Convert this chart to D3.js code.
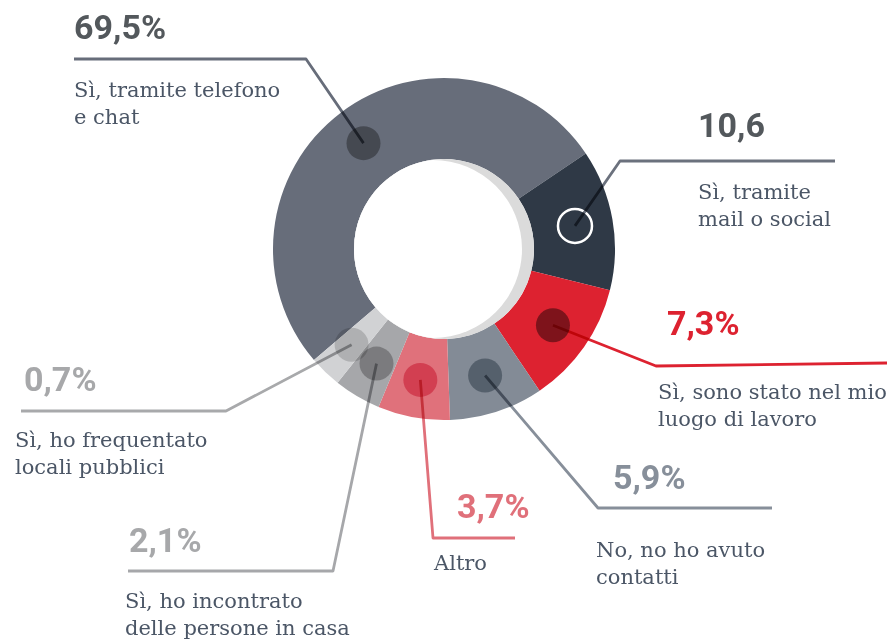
<!DOCTYPE html>
<html>
<head>
<meta charset="utf-8">
<script src="https://cdn.jsdelivr.net/npm/d3@7"></script>
<style>
  body { margin: 0; background: #fff; }
  .value { font-family: Roboto, "Noto Sans", sans-serif; font-weight: 700; font-size: 34px; }
  .label { font-family: "Roboto Slab", "DejaVu Serif", serif; font-size: 21px; fill: #4b5666; }
  .leader { fill: none; stroke-width: 2.8; stroke-linejoin: round; mix-blend-mode: multiply; }
</style>
</head>
<body>
<div id="donut"></div>
<script>
const categories = [
    ["Sì, tramite telefono", "e chat"],
    ["Sì, tramite", "mail o social"],
    ["Sì, sono stato nel mio", "luogo di lavoro"],
    ["No, no ho avuto", "contatti"],
    ["Altro"],
    ["Sì, ho incontrato", "delle persone in casa"],
    ["Sì, ho frequentato", "locali pubblici"]
];
const values = [69.5, 10.6, 7.3, 5.9, 3.7, 2.1, 0.7];
const valueLabels = ["69,5%", "10,6", "7,3%", "5,9%", "3,7%", "2,1%", "0,7%"];
// the original graphic does not draw slices to scale: these are the slice sizes (degrees) as drawn
const drawnShares = [186.5, 48, 42, 32, 24.5, 16, 11];

const width = 893;
const height = 640;
const cx = 444, cy = 249;
const outerR = 171, innerR = 90;

// styles
const sliceColors = ["#676d7a", "#2f3946", "#dd2230", "#838b96", "#e0717b", "#a6a7aa", "#d1d2d4"];
const lineColors  = ["#676d7a", "#6b717d", "#dd2230", "#878f9a", "#e0707a", "#a6a7aa", "#a8a9ab"];
const valueColors = ["#53585c", "#53585c", "#dd2230", "#878f9a", "#e0707a", "#a7a8aa", "#a7a8aa"];
const dotFills    = ["#000", "none", "#000", "#00101f", "#c81e35", "#000", "#000"];
const dotOpacity  = [0.33, 1, 0.43, 0.35, 0.6, 0.26, 0.16];

// callout layout: elbow, end of the leader, value label and text position
const callouts = [
    { elbow: [306, 59],  end: [74, 59],   value: [74, 39],   text: [74, 97] },
    { elbow: [620, 161], end: [835, 161], value: [698, 137], text: [698, 199] },
    { elbow: [656, 366], end: [887, 363], value: [667, 335], text: [658, 399] },
    { elbow: [598, 508], end: [772, 508], value: [613, 489], text: [596, 557] },
    { elbow: [433, 538], end: [515, 538], value: [457, 518], text: [434, 570] },
    { elbow: [333, 571], end: [128, 571], value: [129, 552], text: [125, 608] },
    { elbow: [226, 411], end: [21, 411],  value: [24, 391],  text: [15, 447] }
];

const rows = categories.map((c, i) => ({
    lines: c, value: values[i], label: valueLabels[i], share: drawnShares[i], i
}));

const svg = d3.select("#donut")
    .append("svg")
    .attr("width", width)
    .attr("height", height)
    .attr("viewBox", [0, 0, width, height]);

const startDeg = -130.5;
const pie = d3.pie()
    .sort(null)
    .value(d => d.share)
    .startAngle(startDeg * Math.PI / 180)
    .endAngle(startDeg * Math.PI / 180 + 2 * Math.PI);

const arcGenerator = d3.arc()
    .innerRadius(innerR)
    .outerRadius(outerR);

const dotArc = d3.arc()
    .innerRadius(126)
    .outerRadius(140);

const arcs = pie(rows);

const chart = svg.append("g")
    .attr("transform", `translate(${cx}, ${cy})`);

/* slices */
chart.selectAll("path.slice")
    .data(arcs)
    .join("path")
    .attr("class", "slice")
    .attr("d", arcGenerator)
    .attr("fill", d => sliceColors[d.data.i]);

/* hole with the soft shadow on the right */
chart.append("circle")
    .attr("r", innerR)
    .attr("fill", "#dbdbdb");

svg.append("clipPath")
    .attr("id", "hole")
    .append("circle")
    .attr("r", innerR);

chart.append("circle")
    .attr("cx", -11)
    .attr("r", 89)
    .attr("fill", "#fff")
    .attr("clip-path", "url(#hole)");

/* dots */
chart.selectAll("circle.dot")
    .data(arcs)
    .join("circle")
    .attr("class", "dot")
    .attr("cx", d => dotArc.centroid(d)[0])
    .attr("cy", d => dotArc.centroid(d)[1])
    .attr("r", 17)
    .attr("fill", d => dotFills[d.data.i])
    .attr("fill-opacity", d => dotOpacity[d.data.i])
    .attr("stroke", d => d.data.i === 1 ? "#fff" : "none")
    .attr("stroke-width", 2.5);

/* leader lines */
svg.selectAll("path.leader")
    .data(arcs)
    .join("path")
    .attr("class", "leader")
    .attr("stroke", d => lineColors[d.data.i])
    .attr("d", d => {
        const c = dotArc.centroid(d);
        const o = callouts[d.data.i];
        return d3.line()([[c[0] + cx, c[1] + cy], o.elbow, o.end]);
    });

/* values */
svg.selectAll("text.value")
    .data(rows)
    .join("text")
    .attr("class", "value")
    .attr("x", d => callouts[d.i].value[0])
    .attr("y", d => callouts[d.i].value[1])
    .attr("fill", d => valueColors[d.i])
    .text(d => d.label);

/* category labels */
const labels = svg.selectAll("text.label")
    .data(rows)
    .join("text")
    .attr("class", "label")
    .attr("x", d => callouts[d.i].text[0])
    .attr("y", d => callouts[d.i].text[1]);

labels.selectAll("tspan")
    .data(d => d.lines.map((l, k) => ({ l, k, x: callouts[d.i].text[0] })))
    .join("tspan")
    .attr("x", d => d.x)
    .attr("dy", d => d.k === 0 ? 0 : 27)
    .text(d => d.l);
</script>
</body>
</html>
